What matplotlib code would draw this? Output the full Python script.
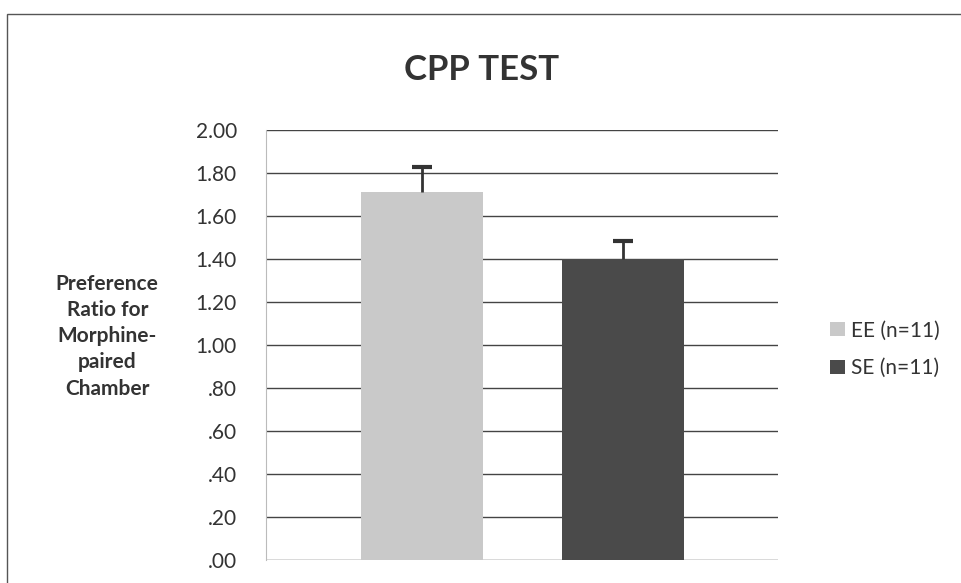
import numpy as np
import matplotlib.pyplot as plt
from matplotlib.patches import Rectangle

# Datos
groups = ['EE (n=11)', 'SE (n=11)']
means = [1.71, 1.40]
sem = [0.12, 0.085]
bar_colors = ['#c9c9c9', '#4a4a4a']
yticks = np.arange(0, 2.01, 0.2)
ytick_labels = ['.00', '.20', '.40', '.60', '.80', '1.00', '1.20', '1.40', '1.60', '1.80', '2.00']

plt.rcParams['font.family'] = ['Lato', 'DejaVu Sans']

fig = plt.figure(figsize=(9.62, 5.83), dpi=100)
fig.patch.set_facecolor('white')

# marco del grafico
fig.patches.append(Rectangle((7 / 962, -0.05), 1.2, 1 - 14 / 583 + 0.05,
                             transform=fig.transFigure, fill=False,
                             edgecolor='#555555', linewidth=1.0))

ax = fig.add_axes([266 / 962, 1 - 560 / 583, 512 / 962, 430 / 583])

x = np.arange(len(groups))
for i in range(len(groups)):
    ax.bar(x[i], means[i], width=0.607, color=bar_colors[i], label=groups[i], zorder=3)
    _, caps, _ = ax.errorbar(x[i], means[i], yerr=[[0], [sem[i]]], fmt='none',
                             ecolor='#333333', elinewidth=2, capsize=7,
                             capthick=3, zorder=4)
    # solo el cap superior
    caps[0].set_visible(False)

ax.set_xlim(-0.776, 1.771)
ax.set_ylim(0, 2.0)
ax.set_yticks(yticks)
ax.set_yticklabels(ytick_labels, fontsize=15, color='#333333')
ax.tick_params(axis='y', length=0, pad=21)
ax.set_xticks([])
ax.yaxis.grid(True, color='#444444', linewidth=1.0, zorder=0)
for side in ['top', 'right', 'bottom']:
    ax.spines[side].set_visible(False)
ax.spines['left'].set_color('#bbbbbb')

ax.set_ylabel('Preference\nRatio for\nMorphine-\npaired\nChamber', fontsize=15,
              fontweight='bold', rotation=0, color='#333333', linespacing=1.38,
              ha='center', va='center')
ax.yaxis.set_label_coords(-0.31, 0.52)

fig.text(482 / 962, 1 - 70 / 583, 'CPP TEST', fontsize=25, fontweight='bold',
         ha='center', va='center', color='#333333')

ax.legend(loc='center left', bbox_to_anchor=(1.065, 0.49), frameon=False,
          fontsize=15, handlelength=0.7, handleheight=0.7, handletextpad=0.3,
          labelspacing=0.85, labelcolor='#333333')

plt.savefig('out.png', dpi=100, facecolor='white')
plt.close()
